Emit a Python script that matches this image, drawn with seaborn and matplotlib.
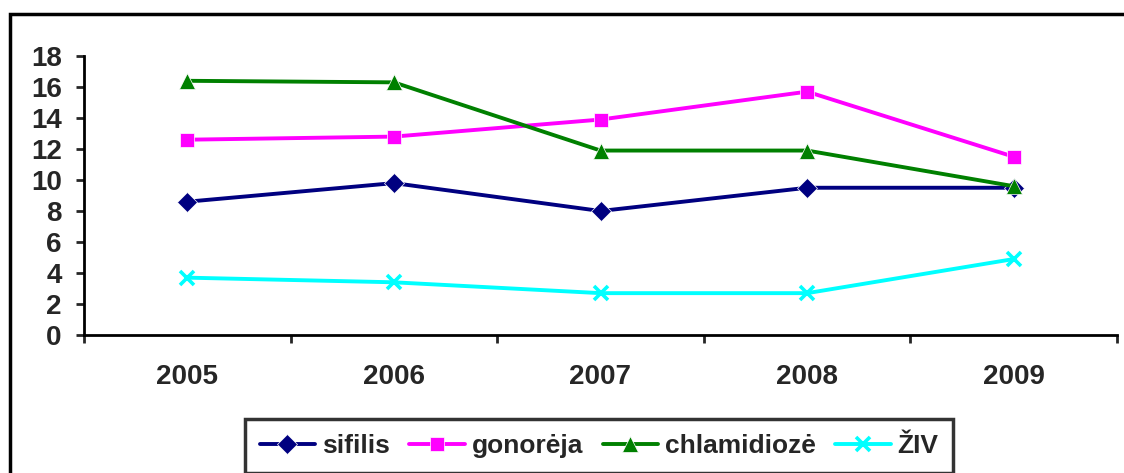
import pandas as pd
import matplotlib
matplotlib.use("Agg")
import matplotlib.pyplot as plt
import seaborn as sns
from matplotlib.patches import Rectangle

# values
years = ["2005", "2006", "2007", "2008", "2009"]
sifilis = [8.6, 9.8, 8.0, 9.5, 9.5]
gonoreja = [12.6, 12.8, 13.9, 15.7, 11.5]
chlamidioze = [16.4, 16.3, 11.9, 11.9, 9.6]
ziv = [3.7, 3.4, 2.7, 2.7, 4.9]

series_names = ["sifilis", "gonorėja", "chlamidiozė", "ŽIV"]
colors = ["#000080", "#FF00FF", "#008000", "#00FFFF"]
markers = ["D", "s", "^", "X"]
marker_sizes = {"D": 10, "s": 10, "^": 11, "x": 10}

df = pd.DataFrame({"metai": years, "sifilis": sifilis, "gonorėja": gonoreja,
                   "chlamidiozė": chlamidioze, "ŽIV": ziv})
long_df = df.melt(id_vars="metai", var_name="liga", value_name="reiksme")

sns.set_style("white")
plt.rcParams["font.family"] = ["Liberation Sans", "DejaVu Sans"]
plt.rcParams["font.weight"] = "bold"

fig = plt.figure(figsize=(11.24, 4.73), dpi=100)
ax = fig.add_axes([84 / 1124, 1 - 335 / 473, (1117 - 84) / 1124, (335 - 56) / 473])

sns.lineplot(data=long_df, x="metai", y="reiksme", hue="liga", style="liga",
             hue_order=series_names, style_order=series_names,
             palette=dict(zip(series_names, colors)),
             markers=dict(zip(series_names, markers)), dashes=False,
             linewidth=2.8, markeredgewidth=0.5, ax=ax)


def fix_marker(line):
    # Excel's thin cross instead of seaborn's filled X
    if line.get_marker() == "X":
        line.set_marker("x")
        line.set_markeredgewidth(2.6)
        line.set_markeredgecolor("#00FFFF")
    m = line.get_marker()
    if m in marker_sizes:
        line.set_markersize(marker_sizes[m])


for line in ax.get_lines():
    fix_marker(line)

ax.set_xlim(-0.5, 4.5)
ax.set_ylim(0, 18)
ax.set_yticks(range(0, 19, 2))
ax.set_xticks(range(len(years)))
ax.set_xticks([i - 0.5 for i in range(len(years) + 1)], minor=True)
ax.set_xlabel("")
ax.set_ylabel("")

for side in ["top", "right"]:
    ax.spines[side].set_visible(False)
for side in ["left", "bottom"]:
    ax.spines[side].set_linewidth(2)
    ax.spines[side].set_color("black")

ax.tick_params(axis="y", which="major", direction="out", length=6, width=2,
               left=True, labelsize=20, pad=10)
ax.tick_params(axis="x", which="major", length=0, labelsize=20, pad=21)
ax.tick_params(axis="x", which="minor", direction="out", length=6, width=2,
               bottom=True)
for lab in ax.get_xticklabels() + ax.get_yticklabels():
    lab.set_fontweight("bold")

handles, labels = ax.get_legend_handles_labels()
ax.get_legend().remove()
for h in handles:
    fix_marker(h)
leg = fig.legend(handles, labels, loc="center", ncol=4,
                 bbox_to_anchor=(599 / 1124, 1 - 446 / 473),
                 prop={"size": 19, "weight": "bold"}, frameon=True,
                 fancybox=False, handlelength=2.1, handletextpad=0.25,
                 columnspacing=0.75, borderpad=0.55)
leg.get_frame().set_edgecolor("black")
leg.get_frame().set_linewidth(2.5)

# outer chart border
fig.patches.append(Rectangle((10 / 1124, -0.2), 1.2, 1.2 - 14 / 473,
                             transform=fig.transFigure, fill=False,
                             edgecolor="black", linewidth=2.5))

fig.savefig("out.png", dpi=100)
